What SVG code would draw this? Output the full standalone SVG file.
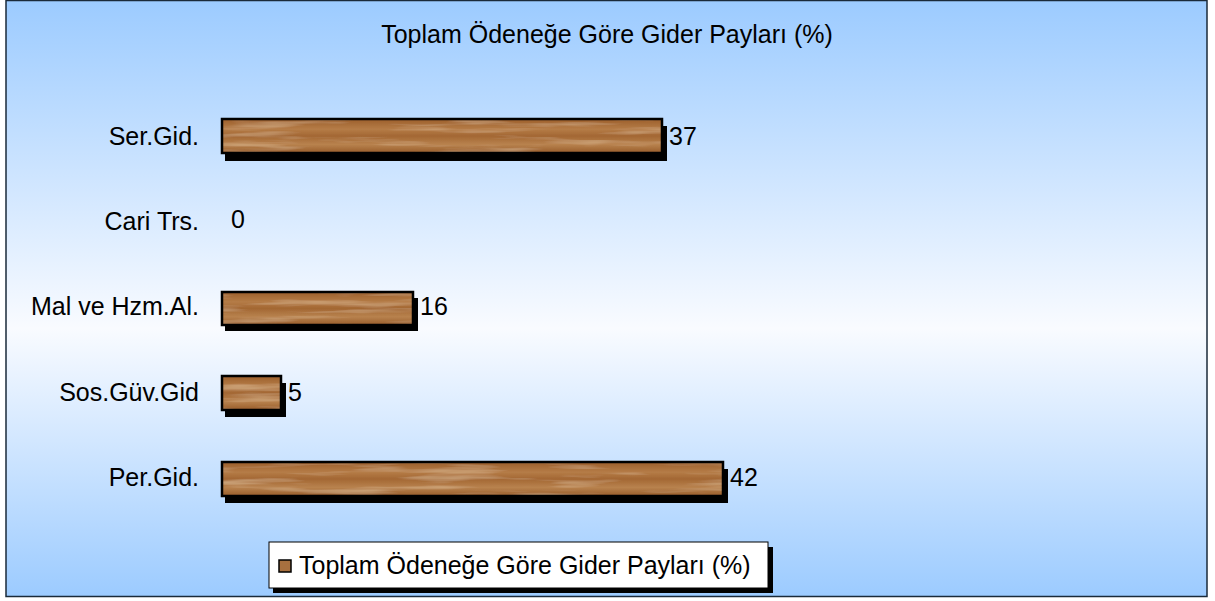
<svg xmlns="http://www.w3.org/2000/svg" width="1215" height="601" viewBox="0 0 1215 601">
<style>
text{font-family:"Liberation Sans",Arial,sans-serif;font-size:25px;fill:#000}
.cat{text-anchor:end}
.bar{fill:url(#wood)}
.edge{fill:none;stroke:#000;stroke-width:2.5}
.shadow{fill:#000}
</style>
<defs>
<linearGradient id="bg" x1="0" y1="0" x2="0" y2="1">
<stop offset="0" stop-color="#9ccbff"/>
<stop offset="0.55" stop-color="#f9fbff"/>
<stop offset="1" stop-color="#9ccbff"/>
</linearGradient>
<linearGradient id="wood" x1="0" y1="0" x2="0" y2="1">
<stop offset="0" stop-color="#9c5f2c"/>
<stop offset="0.3" stop-color="#b57c47"/>
<stop offset="0.5" stop-color="#a36733"/>
<stop offset="0.75" stop-color="#b8824e"/>
<stop offset="1" stop-color="#985c2a"/>
</linearGradient>
<filter id="grain" x="0" y="0" width="1" height="1">
<feTurbulence type="fractalNoise" baseFrequency="0.01 0.15" numOctaves="3" seed="7" result="n"/>
<feColorMatrix in="n" type="matrix" values="0 0 0 0 0.82  0 0 0 0 0.6  0 0 0 0 0.36  0 0 0 1.2 -0.6" result="c"/>
<feComposite in="c" in2="SourceGraphic" operator="atop"/>
</filter>
</defs>
<rect x="6" y="0.5" width="1201" height="596" fill="url(#bg)" stroke="#1a2a3a" stroke-width="1.5"/>
<text x="607" y="43" text-anchor="middle">Toplam Ödeneğe Göre Gider Payları (%)</text>
<g id="cat-labels">
<text class="cat" x="199" y="145">Ser.Gid.</text>
<text class="cat" x="199" y="230">Cari Trs.</text>
<text class="cat" x="199" y="315">Mal ve Hzm.Al.</text>
<text class="cat" x="199" y="401">Sos.Güv.Gid</text>
<text class="cat" x="199" y="486">Per.Gid.</text>
</g>
<g id="bar-ser">
<rect class="shadow" x="225" y="126" width="442" height="35"/>
<rect class="bar" x="222" y="119" width="440" height="34" filter="url(#grain)"/>
<rect class="edge" x="222" y="119" width="440" height="34"/>
<text x="669" y="145">37</text>
</g>
<g id="bar-cari">
<text x="231" y="228">0</text>
</g>
<g id="bar-mal">
<rect class="shadow" x="225" y="298" width="193" height="33"/>
<rect class="bar" x="222" y="292" width="191" height="33" filter="url(#grain)"/>
<rect class="edge" x="222" y="292" width="191" height="33"/>
<text x="420" y="315">16</text>
</g>
<g id="bar-sos">
<rect class="shadow" x="225" y="383" width="61" height="34"/>
<rect class="bar" x="222" y="376" width="59" height="34" filter="url(#grain)"/>
<rect class="edge" x="222" y="376" width="59" height="34"/>
<text x="288" y="401">5</text>
</g>
<g id="bar-per">
<rect class="shadow" x="225" y="469" width="503" height="34"/>
<rect class="bar" x="222" y="462" width="501" height="34" filter="url(#grain)"/>
<rect class="edge" x="222" y="462" width="501" height="34"/>
<text x="730" y="486">42</text>
</g>
<g id="legend">
<rect class="shadow" x="273" y="547" width="500" height="46"/>
<rect x="269" y="542" width="499" height="46" fill="#fff" stroke="#000" stroke-width="1"/>
<rect x="279" y="560" width="12" height="12" fill="#a8703f" stroke="#000" stroke-width="1.5"/>
<text x="299" y="574">Toplam Ödeneğe Göre Gider Payları (%)</text>
</g>
</svg>
